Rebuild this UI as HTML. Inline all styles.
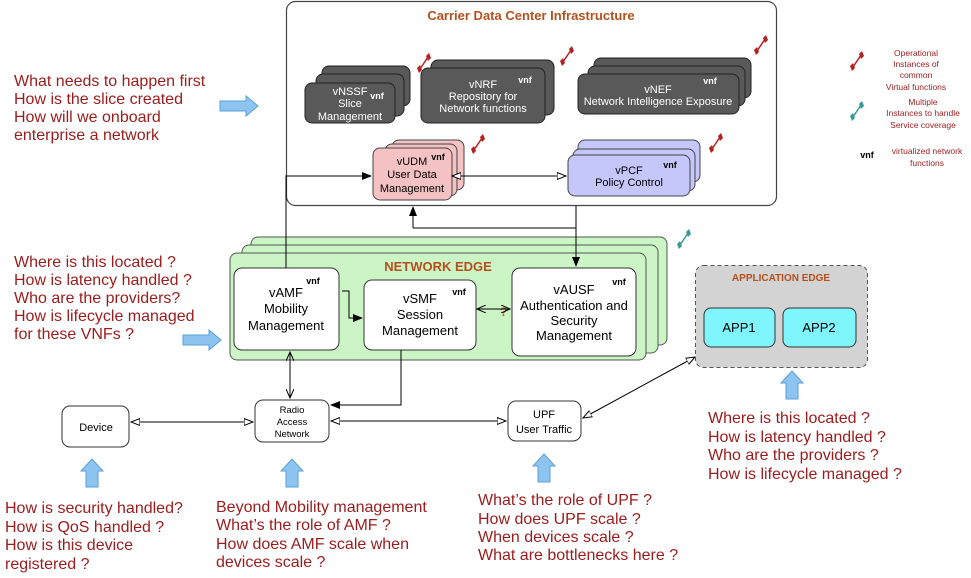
<!DOCTYPE html>
<html><head><meta charset="utf-8"><style>
html,body{margin:0;padding:0;background:#fff;}
svg{display:block;font-family:"Liberation Sans",Arial,sans-serif;}
.q{fill:#9b1c1c;font-size:16px;}
.w{fill:#fff;font-size:11px;text-anchor:middle;}
.k{fill:#000;text-anchor:middle;}
.v{font-size:9px;font-weight:bold;}
.dk{fill:#595959;stroke:#222;stroke-width:1;}
.ln{stroke:#000;stroke-width:1;fill:none;}
</style></head><body>
<svg width="971" height="578" viewBox="0 0 971 578" xmlns="http://www.w3.org/2000/svg">
<defs>
<marker id="af" markerWidth="10" markerHeight="8" refX="9" refY="4" orient="auto" markerUnits="userSpaceOnUse"><path d="M0,0 L10,4 L0,8 z" fill="#000"/></marker>
<marker id="ao" markerWidth="10" markerHeight="8" refX="9" refY="4" orient="auto" markerUnits="userSpaceOnUse"><path d="M0,0.5 L9,4 L0,7.5 z" fill="#fff" stroke="#000" stroke-width="1"/></marker>
<marker id="ao2" markerWidth="10" markerHeight="8" refX="1" refY="4" orient="auto" markerUnits="userSpaceOnUse"><path d="M10,0.5 L1,4 L10,7.5 z" fill="#fff" stroke="#000" stroke-width="1"/></marker>
<marker id="al" markerWidth="10" markerHeight="8" refX="9" refY="4" orient="auto" markerUnits="userSpaceOnUse"><path d="M0,0 L9,4 L0,8" fill="none" stroke="#000"/></marker>
<marker id="al2" markerWidth="10" markerHeight="8" refX="1" refY="4" orient="auto" markerUnits="userSpaceOnUse"><path d="M10,0 L1,4 L10,8" fill="none" stroke="#000"/></marker>
<g id="red"><path d="M-4,6 L4,-6" stroke="#b22222" stroke-width="1.5"/><path d="M-7,5 L-4,2 L-2,7 L-5,10 z" fill="#b22222"/><path d="M2,-7 L5,-10 L7,-5 L4,-2 z" fill="#b22222"/></g>
<g id="teal"><path d="M-4,6 L4,-6" stroke="#3a9a9a" stroke-width="1.5"/><path d="M-7,5 L-4,2 L-2,7 L-5,10 z" fill="#3a9a9a"/><path d="M2,-7 L5,-10 L7,-5 L4,-2 z" fill="#3a9a9a"/></g>
<g id="bu"><path d="M-6,28 L-6,12 L-11,12 L0,0 L11,12 L6,12 L6,28 z" fill="#8ec5f0" stroke="#5aa0d8" stroke-width="1"/></g>
<g id="br"><path d="M0,-5 L26,-5 L26,-10 L38,0 L26,10 L26,5 L0,5 z" fill="#8ec5f0" stroke="#5aa0d8" stroke-width="1"/></g>
</defs>

<rect x="286.5" y="1.5" width="490" height="204" rx="9" fill="#fff" stroke="#444" stroke-width="1.2"/>
<text x="531" y="20" text-anchor="middle" font-size="13" font-weight="bold" fill="#b5501e">Carrier Data Center Infrastructure</text>

<rect class="dk" x="322" y="66" width="88" height="40" rx="7"/>
<rect class="dk" x="316" y="74" width="88" height="42" rx="7"/>
<rect class="dk" x="305" y="83" width="90" height="40" rx="7"/>
<text class="w" x="350" y="95">vNSSF</text><text class="w" x="350" y="107">Slice</text><text class="w" x="350" y="120">Management</text>
<text class="w v" x="377" y="99">vnf</text>
<use href="#red" x="424" y="63"/>

<rect class="dk" x="431" y="60" width="123" height="55" rx="7"/>
<rect class="dk" x="421" y="68" width="124" height="55" rx="7"/>
<text class="w" x="483" y="88">vNRF</text><text class="w" x="483" y="100">Repository for</text><text class="w" x="483" y="112">Network functions</text>
<text class="w v" x="525" y="83">vnf</text>
<use href="#red" x="567" y="56"/>

<rect class="dk" x="594" y="58" width="157" height="40" rx="7"/>
<rect class="dk" x="588" y="66" width="157" height="40" rx="7"/>
<rect class="dk" x="578" y="74" width="161" height="40" rx="7"/>
<text class="w" x="658" y="93">vNEF</text><text class="w" x="658" y="105">Network Intelligence Exposure</text>
<text class="w v" x="710" y="84">vnf</text>
<use href="#red" x="761" y="45"/>

<rect x="392" y="140" width="72" height="50" rx="7" fill="#f4c2c2" stroke="#444"/>
<rect x="385" y="144" width="72" height="52" rx="7" fill="#f4c2c2" stroke="#444"/>
<rect x="373" y="148" width="79" height="52" rx="7" fill="#f4c2c2" stroke="#444"/>
<text class="k" x="412" y="165" font-size="11">vUDM</text><text class="k" x="412" y="178" font-size="11">User Data</text><text class="k" x="412" y="192" font-size="11">Management</text>
<text class="k v" x="438" y="160">vnf</text>
<use href="#red" x="478" y="144"/>

<rect x="578" y="140" width="122" height="42" rx="7" fill="#c5c6f9" stroke="#444"/>
<rect x="573" y="149" width="122" height="42" rx="7" fill="#c5c6f9" stroke="#444"/>
<rect x="568" y="155" width="122" height="41" rx="7" fill="#c5c6f9" stroke="#444"/>
<text class="k" x="629" y="174" font-size="11">vPCF</text><text class="k" x="629" y="186" font-size="11">Policy Control</text>
<text class="k v" x="670" y="168">vnf</text>
<use href="#red" x="716" y="143"/>

<line class="ln" x1="452" y1="176" x2="566" y2="176" marker-start="url(#ao2)" marker-end="url(#ao)"/>

<use href="#red" x="857" y="61"/>
<text font-size="8.5" fill="#9b1c1c" text-anchor="middle"><tspan x="916" y="56">Operational</tspan><tspan x="916" y="67">Instances of</tspan><tspan x="916" y="78">common</tspan><tspan x="916" y="90">Virtual functions</tspan></text>
<use href="#teal" x="857" y="111"/>
<text font-size="8.5" fill="#9b1c1c" text-anchor="middle"><tspan x="923" y="105">Multiple</tspan><tspan x="923" y="116">Instances to handle</tspan><tspan x="923" y="128">Service coverage</tspan></text>
<text x="867" y="158" font-size="9" font-weight="bold" text-anchor="middle">vnf</text>
<text font-size="8.5" fill="#9b1c1c" text-anchor="middle"><tspan x="927" y="154">virtualized network</tspan><tspan x="927" y="166">functions</tspan></text>

<rect x="251" y="237" width="416" height="108" rx="7" fill="#ccf5c6" stroke="#555"/>
<rect x="242" y="245" width="416" height="108" rx="7" fill="#ccf5c6" stroke="#555"/>
<rect x="230" y="253" width="416" height="107" rx="7" fill="#ccf5c6" stroke="#555"/>
<text x="438" y="271" text-anchor="middle" font-size="13" font-weight="bold" fill="#b5501e">NETWORK EDGE</text>
<use href="#teal" x="684" y="239"/>
<text x="500" y="316" font-size="12" font-weight="bold" fill="#b5501e">?</text>

<rect x="234" y="268" width="105" height="82" rx="8" fill="#fff" stroke="#333"/>
<text class="k" font-size="13"><tspan x="286" y="297">vAMF</tspan><tspan x="286" y="313">Mobility</tspan><tspan x="286" y="330">Management</tspan></text>
<text class="k v" x="313" y="284">vnf</text>

<rect x="364" y="280" width="112" height="70" rx="8" fill="#fff" stroke="#333"/>
<text class="k" font-size="13"><tspan x="420" y="303">vSMF</tspan><tspan x="420" y="319">Session</tspan><tspan x="420" y="335">Management</tspan></text>
<text class="k v" x="459" y="295">vnf</text>

<rect x="512" y="268" width="124" height="88" rx="8" fill="#fff" stroke="#333"/>
<text class="k" font-size="13"><tspan x="574" y="294">vAUSF</tspan><tspan x="574" y="310">Authentication and</tspan><tspan x="574" y="325">Security</tspan><tspan x="574" y="340">Management</tspan></text>
<text class="k v" x="619" y="285">vnf</text>

<polyline class="ln" points="286,268 286,176 371,176" marker-end="url(#af)"/>
<polyline class="ln" points="576,206 576,266" marker-end="url(#af)"/>
<polyline class="ln" points="413,228 413,207" marker-end="url(#af)"/>
<polyline class="ln" points="413,228 576,228"/>
<polyline class="ln" points="342,291 349,291 349,318 362,318" marker-end="url(#af)"/>
<line class="ln" x1="477" y1="309" x2="510" y2="309" marker-start="url(#al2)" marker-end="url(#al)"/>
<line class="ln" x1="290" y1="352" x2="290" y2="398" marker-start="url(#al2)" marker-end="url(#al)"/>
<polyline class="ln" points="401,350 401,405 331,405" marker-end="url(#af)"/>
<line class="ln" x1="131" y1="422" x2="253" y2="422" marker-start="url(#ao2)" marker-end="url(#ao)"/>
<line class="ln" x1="331" y1="421" x2="506" y2="421" marker-start="url(#ao2)" marker-end="url(#ao)"/>
<line class="ln" x1="583" y1="418" x2="695" y2="357" marker-start="url(#ao2)" marker-end="url(#ao)"/>

<rect x="62" y="406" width="67" height="41" rx="8" fill="#fff" stroke="#333"/>
<text class="k" x="96" y="431" font-size="11">Device</text>
<rect x="255" y="400" width="74" height="42" rx="8" fill="#fff" stroke="#333"/>
<text class="k" font-size="9.5"><tspan x="292" y="413">Radio</tspan><tspan x="292" y="425">Access</tspan><tspan x="292" y="437">Network</tspan></text>
<rect x="508" y="401" width="73" height="40" rx="8" fill="#fff" stroke="#333"/>
<text class="k" font-size="11"><tspan x="544" y="418">UPF</tspan><tspan x="544" y="433">User Traffic</tspan></text>

<rect x="695.5" y="265.5" width="172" height="102" rx="8" fill="#d3d3d3" stroke="#555" stroke-dasharray="4,3"/>
<text x="781" y="281" text-anchor="middle" font-size="10" font-weight="bold" fill="#b5501e">APPLICATION EDGE</text>
<rect x="704" y="308" width="71" height="39" rx="7" fill="#7ff6fd" stroke="#333"/>
<text class="k" x="739" y="332" font-size="13">APP1</text>
<rect x="783" y="308" width="73" height="39" rx="7" fill="#7ff6fd" stroke="#333"/>
<text class="k" x="819" y="332" font-size="13">APP2</text>

<use href="#br" x="220" y="106"/>
<use href="#br" x="183" y="340"/>
<use href="#bu" x="92" y="459"/>
<use href="#bu" x="292" y="459"/>
<use href="#bu" x="544" y="454"/>
<use href="#bu" x="792" y="371"/>

<text class="q"><tspan x="14" y="86">What needs to happen first</tspan><tspan x="14" y="104">How is the slice created</tspan><tspan x="14" y="122">How will we onboard</tspan><tspan x="14" y="140">enterprise a network</tspan></text>
<text class="q"><tspan x="14" y="267">Where is this located ?</tspan><tspan x="14" y="285">How is latency handled ?</tspan><tspan x="14" y="303">Who are the providers?</tspan><tspan x="14" y="321">How is lifecycle managed</tspan><tspan x="14" y="339">for these VNFs ?</tspan></text>
<text class="q"><tspan x="5" y="513">How is security handled?</tspan><tspan x="5" y="532">How is QoS handled ?</tspan><tspan x="5" y="550">How is this device</tspan><tspan x="5" y="569">registered ?</tspan></text>
<text class="q"><tspan x="216" y="512">Beyond Mobility management</tspan><tspan x="216" y="530">What’s the role of AMF ?</tspan><tspan x="216" y="549">How does AMF scale when</tspan><tspan x="216" y="567">devices scale ?</tspan></text>
<text class="q"><tspan x="478" y="505">What’s the role of UPF ?</tspan><tspan x="478" y="524">How does UPF scale ?</tspan><tspan x="478" y="542">When devices scale ?</tspan><tspan x="478" y="560">What are bottlenecks here ?</tspan></text>
<text class="q"><tspan x="708" y="423">Where is this located ?</tspan><tspan x="708" y="442">How is latency handled ?</tspan><tspan x="708" y="460">Who are the providers ?</tspan><tspan x="708" y="479">How is lifecycle managed ?</tspan></text>
</svg>
</body></html>
